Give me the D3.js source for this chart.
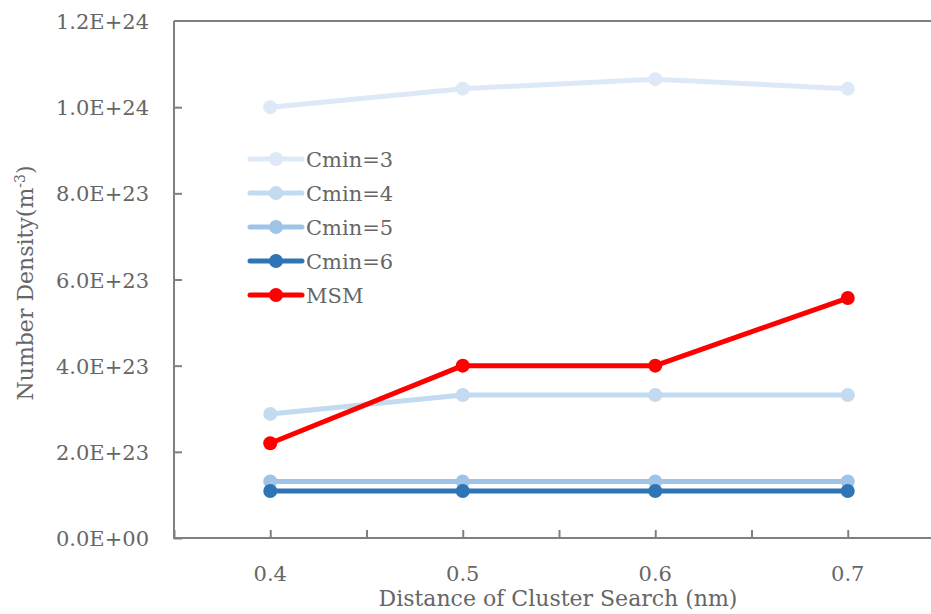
<!DOCTYPE html>
<html>
<head>
<meta charset="utf-8">
<script src="https://cdn.jsdelivr.net/npm/d3@7"></script>
<style>
  body { margin: 0; background: #fff; }
  svg text { font-family: "DejaVu Serif", "Liberation Serif", serif; fill: #666; }
</style>
</head>
<body>
<svg id="chart" width="931" height="614"></svg>
<script>
var distances = [0.4, 0.5, 0.6, 0.7];
var cmin3 = [1.0e24, 1.043e24, 1.065e24, 1.043e24];
var cmin4 = [2.88e23, 3.32e23, 3.32e23, 3.32e23];
var cmin5 = [1.31e23, 1.31e23, 1.31e23, 1.31e23];
var cmin6 = [1.09e23, 1.09e23, 1.09e23, 1.09e23];
var msm = [2.2e23, 4.0e23, 4.0e23, 5.57e23];
var seriesNames = ["Cmin=3", "Cmin=4", "Cmin=5", "Cmin=6", "MSM"];
var seriesColors = ["#dde9f6", "#c3dbf0", "#a0c4e7", "#2e75b6", "#ff0000"];
var yTicks = [0, 2e23, 4e23, 6e23, 8e23, 1e24, 1.2e24];
var xTicks = [0.35, 0.4, 0.45, 0.5, 0.55, 0.6, 0.65, 0.7, 0.75];

var series = [cmin3, cmin4, cmin5, cmin6, msm].map(function(vals, i){
  return {name: seriesNames[i], color: seriesColors[i],
    points: vals.map(function(v, j){ return {x: distances[j], y: v}; })};
});

var svg = d3.select("#chart"),
  plotLeft = 174, plotTop = 21, plotBottom = 538;

var x = d3.scaleLinear().domain([0.35, 0.75]).range([plotLeft, plotLeft + 770]);
var y = d3.scaleLinear().domain([0, 1.2e24]).range([plotBottom, plotTop]);

function fmt(v){
  if (v === 0) return "0.0E+00";
  var e = Math.floor(Math.log10(v) + 1e-9);
  return (v / Math.pow(10, e)).toFixed(1) + "E+" + e;
}

// frame: top border, left axis, bottom axis
svg.append("line").attr("x1", plotLeft).attr("x2", 931).attr("y1", plotTop).attr("y2", plotTop)
  .attr("stroke", "#808080").attr("stroke-width", 2);

var yAxis = svg.append("g").attr("transform", "translate(" + plotLeft + ",0)")
  .call(d3.axisRight(y).tickValues(yTicks.slice(0, -1)).tickSize(8).tickFormat(""));
yAxis.select(".domain").attr("d", "M0," + (plotBottom + 1) + "V" + plotTop);
yAxis.selectAll("path, line").attr("stroke", "#808080").attr("stroke-width", 2);

svg.selectAll(".ylab").data(yTicks).enter().append("text")
  .attr("class", "ylab")
  .attr("x", plotLeft - 25).attr("y", function(d){ return y(d) + 8; })
  .attr("text-anchor", "end").attr("font-size", 21)
  .text(fmt);

var xAxis = svg.append("g").attr("transform", "translate(0," + plotBottom + ")")
  .call(d3.axisTop(x).tickValues(xTicks).tickSize(8).tickFormat(""));
xAxis.select(".domain").attr("d", "M" + (plotLeft - 1) + ",0H931");
xAxis.selectAll("path, line").attr("stroke", "#808080").attr("stroke-width", 2);

svg.selectAll(".xlab").data(distances).enter().append("text")
  .attr("class", "xlab")
  .attr("x", function(d){ return x(d); }).attr("y", 581)
  .attr("text-anchor", "middle").attr("font-size", 21)
  .text(function(d){ return d.toFixed(1); });

svg.append("text").attr("x", 558).attr("y", 606)
  .attr("text-anchor", "middle").attr("font-size", 22)
  .text("Distance of Cluster Search (nm)");

var yt = svg.append("text").attr("transform", "translate(33,283) rotate(-90)")
  .attr("text-anchor", "middle").attr("font-size", 22);
yt.append("tspan").text("Number Density(m");
yt.append("tspan").attr("dy", -8).attr("font-size", 14).text("-3");
yt.append("tspan").attr("dy", 8).text(")");

// lines and markers
var line = d3.line().x(function(d){ return x(d.x); }).y(function(d){ return y(d.y); });
var g = svg.selectAll(".series").data(series).enter().append("g").attr("class", "series");
g.append("path").attr("d", function(d){ return line(d.points); })
  .attr("fill", "none").attr("stroke", function(d){ return d.color; })
  .attr("stroke-width", 5).attr("stroke-linejoin", "round");
g.selectAll("circle").data(function(d){ return d.points.map(function(p){ return {p: p, c: d.color}; }); })
  .enter().append("circle")
  .attr("cx", function(d){ return x(d.p.x); }).attr("cy", function(d){ return y(d.p.y); })
  .attr("r", 7).attr("fill", function(d){ return d.c; });

// legend
var leg = svg.selectAll(".leg").data(series).enter().append("g").attr("class", "leg")
  .attr("transform", function(d, i){ return "translate(250," + (159 + i * 34) + ")"; });
leg.append("line").attr("x1", 0).attr("x2", 52).attr("stroke", function(d){ return d.color; })
  .attr("stroke-width", 5).attr("stroke-linecap", "round");
leg.append("circle").attr("cx", 26).attr("r", 7).attr("fill", function(d){ return d.color; });
leg.append("text").attr("x", 56).attr("y", 8).attr("font-size", 21).text(function(d){ return d.name; });
</script>
</body>
</html>
